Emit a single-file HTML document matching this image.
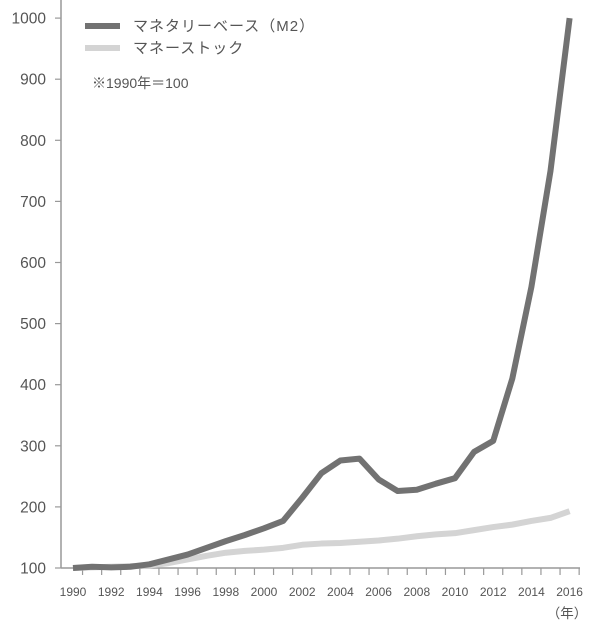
<!DOCTYPE html>
<html><head><meta charset="utf-8"><style>
body{margin:0;background:#fff}
svg text{font-family:"Liberation Sans","Noto Sans CJK JP",sans-serif;fill:#555}
</style></head><body>
<svg width="600" height="636" viewBox="0 0 600 636" xmlns="http://www.w3.org/2000/svg">
<g stroke="#999" stroke-width="1.5" fill="none">
<line x1="61" y1="0" x2="61" y2="568"/>
<line x1="61" y1="568" x2="580" y2="568"/>
</g>
<g stroke="#999" stroke-width="1.2" id="yt"></g>
<g stroke="#999" stroke-width="1.2" id="xt"></g>
<g font-size="15.5" text-anchor="end" id="yl"></g>
<g font-size="12" text-anchor="middle" id="xl"></g>
<text x="567" y="618" font-size="13.5" text-anchor="middle">（年）</text>
<polyline id="ms" fill="none" stroke="#d4d4d4" stroke-width="6" stroke-linejoin="round"/>
<polyline id="mb" fill="none" stroke="#727272" stroke-width="6" stroke-linejoin="round"/>
<line x1="85" y1="26" x2="120" y2="26" stroke="#727272" stroke-width="6"/>
<line x1="85" y1="48" x2="120" y2="48" stroke="#d4d4d4" stroke-width="6"/>
<text x="133" y="31" font-size="15" letter-spacing="1">マネタリーベース（M2）</text>
<text x="133" y="53" font-size="15" letter-spacing="1">マネーストック</text>
<text x="92" y="88" font-size="14">※1990年＝100</text>
</svg>
<script>
var X=y=>73+(y-1990)*19.1, Y=v=>568-(v-100)*0.611;
var mb=[100,102,101,102,106,114,122,133,144,154,165,177,215,255,276,279,245,226,228,238,247,290,308,410,560,750,1000];
var ms=[100,101,102,103,104,108,114,120,125,128,130,133,138,140,141,143,145,148,152,155,157,162,167,171,177,182,193];
document.getElementById('mb').setAttribute('points',mb.map((v,i)=>X(1990+i)+','+Y(v)).join(' '));
document.getElementById('ms').setAttribute('points',ms.map((v,i)=>X(1990+i)+','+Y(v)).join(' '));
var ns='http://www.w3.org/2000/svg';
function el(p,t,a,txt){var e=document.createElementNS(ns,t);for(var k in a)e.setAttribute(k,a[k]);if(txt)e.textContent=txt;document.getElementById(p).appendChild(e);}
for(var v=100;v<=1000;v+=100){el('yt','line',{x1:55,x2:61,y1:Y(v),y2:Y(v)});el('yl','text',{x:46,y:Y(v)+5.5},String(v));}
for(var k=0;k<=26;k++){var x=73+(k+0.5)*19.1;el('xt','line',{x1:x,x2:x,y1:568,y2:575});}
for(var yr=1990;yr<=2016;yr+=2)el('xl','text',{x:X(yr),y:596},String(yr));
</script>
</body></html>
